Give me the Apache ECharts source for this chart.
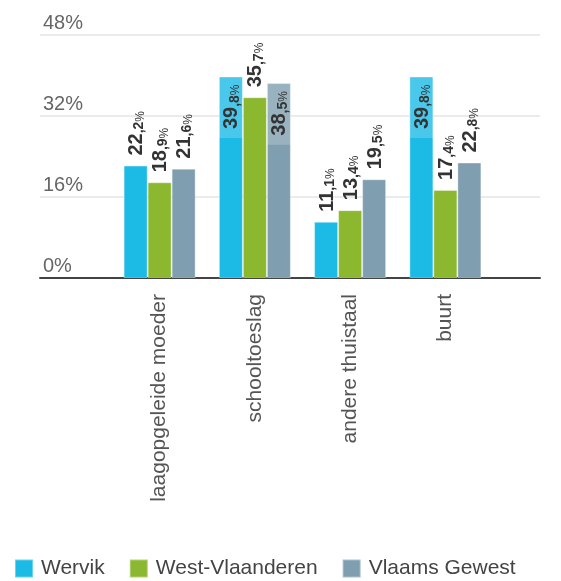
<!DOCTYPE html>
<html>
<head>
<meta charset="utf-8">
<script src="https://cdn.jsdelivr.net/npm/echarts@6/dist/echarts.min.js"></script>
<style>
  html, body { margin: 0; padding: 0; background: #fff; }
  #chart { width: 561px; height: 581px; }
</style>
</head>
<body>
<div id="chart"></div>
<script>
const categories = ['laagopgeleide moeder', 'schooltoeslag', 'andere thuistaal', 'buurt']
const seriesNames = ['Wervik', 'West-Vlaanderen', 'Vlaams Gewest']
const wervik = [22.2, 39.8, 11.1, 39.8]
const westVlaanderen = [18.9, 35.7, 13.4, 17.4]
const vlaamsGewest = [21.6, 38.5, 19.5, 22.8]
const yTicks = [0, 16, 32, 48]

const colorList = ['#1cbbe6', '#8bb82f', '#7f9fb0']
const yMax = yTicks[yTicks.length - 1]

function labelText(v) {
  let parts = v.toFixed(1).split('.')
  return '{a|' + parts[0] + '}{b|,' + parts[1] + '}{c|%}'
}

const rich = {
  a: { fontSize: 20, fontWeight: 'bold', color: '#333', lineHeight: 22, verticalAlign: 'bottom', fontFamily: 'Liberation Sans' },
  b: { fontSize: 14, fontWeight: 'bold', color: '#333', lineHeight: 17, verticalAlign: 'bottom', fontFamily: 'Liberation Sans' },
  c: { fontSize: 12, color: '#333', lineHeight: 16, verticalAlign: 'bottom', fontFamily: 'Liberation Sans' }
}

function buildData(values) {
  return values.map(v => {
    // labels that would run past the top of the plot go inside the bar
    if (v > 38) {
      return {
        value: v,
        label: {
          position: 'insideTop',
          rotate: 90,
          align: 'right',
          verticalAlign: 'middle',
          distance: 0,
          padding: [1, 8, 1, 9],
          backgroundColor: 'rgba(255,255,255,0.2)'
        }
      }
    }
    return v
  })
}

let series = [wervik, westVlaanderen, vlaamsGewest].map((vals, i) => ({
  name: seriesNames[i],
  type: 'bar',
  xAxisIndex: 1,
  yAxisIndex: 1,
  barWidth: 24,
  barGap: '0%',
  itemStyle: {
    color: colorList[i],
    borderColor: 'rgba(255,255,255,0.35)',
    borderWidth: 1
  },
  label: {
    show: true,
    position: 'top',
    rotate: 90,
    align: 'left',
    verticalAlign: 'middle',
    distance: 10,
    formatter: p => labelText(p.value),
    rich: rich
  },
  data: buildData(vals)
}))

let chart = echarts.init(document.getElementById('chart'))
chart.setOption({
  animation: false,
  color: colorList,
  textStyle: { fontFamily: 'Liberation Sans' },
  grid: [
    { left: 40, right: 21, top: 35, bottom: 303 },
    { left: 112, right: 68, top: 35, bottom: 303 }
  ],
  legend: {
    data: seriesNames,
    icon: 'rect',
    itemWidth: 18,
    itemHeight: 18,
    itemGap: 24,
    left: 9,
    top: 553,
    textStyle: {
      fontSize: 21,
      color: '#444',
      padding: [0, 0, 0, 3]
    }
  },
  xAxis: [
    {
      gridIndex: 0,
      type: 'value',
      min: 0,
      max: 1,
      axisLine: { show: true, lineStyle: { color: '#444', width: 2 } },
      axisTick: { show: false },
      axisLabel: { show: false },
      splitLine: { show: false }
    },
    {
      gridIndex: 1,
      type: 'category',
      data: categories,
      axisLine: { show: false },
      axisTick: { show: false },
      axisLabel: {
        rotate: 90,
        margin: 16,
        fontSize: 21,
        color: '#555'
      }
    }
  ],
  yAxis: [
    {
      gridIndex: 0,
      type: 'value',
      min: 0,
      max: yMax,
      interval: 16,
      axisLine: { show: false },
      axisTick: { show: false },
      axisLabel: {
        inside: true,
        margin: 3,
        align: 'left',
        verticalAlign: 'bottom',
        padding: [0, 0, 2, 0],
        fontSize: 20,
        color: '#666',
        formatter: '{value}%'
      },
      splitLine: { lineStyle: { color: '#ebebeb', width: 2 } }
    },
    {
      gridIndex: 1,
      type: 'value',
      min: 0,
      max: yMax,
      interval: 16,
      show: false,
      splitLine: { show: false }
    }
  ],
  series: series
})
</script>
</body>
</html>
